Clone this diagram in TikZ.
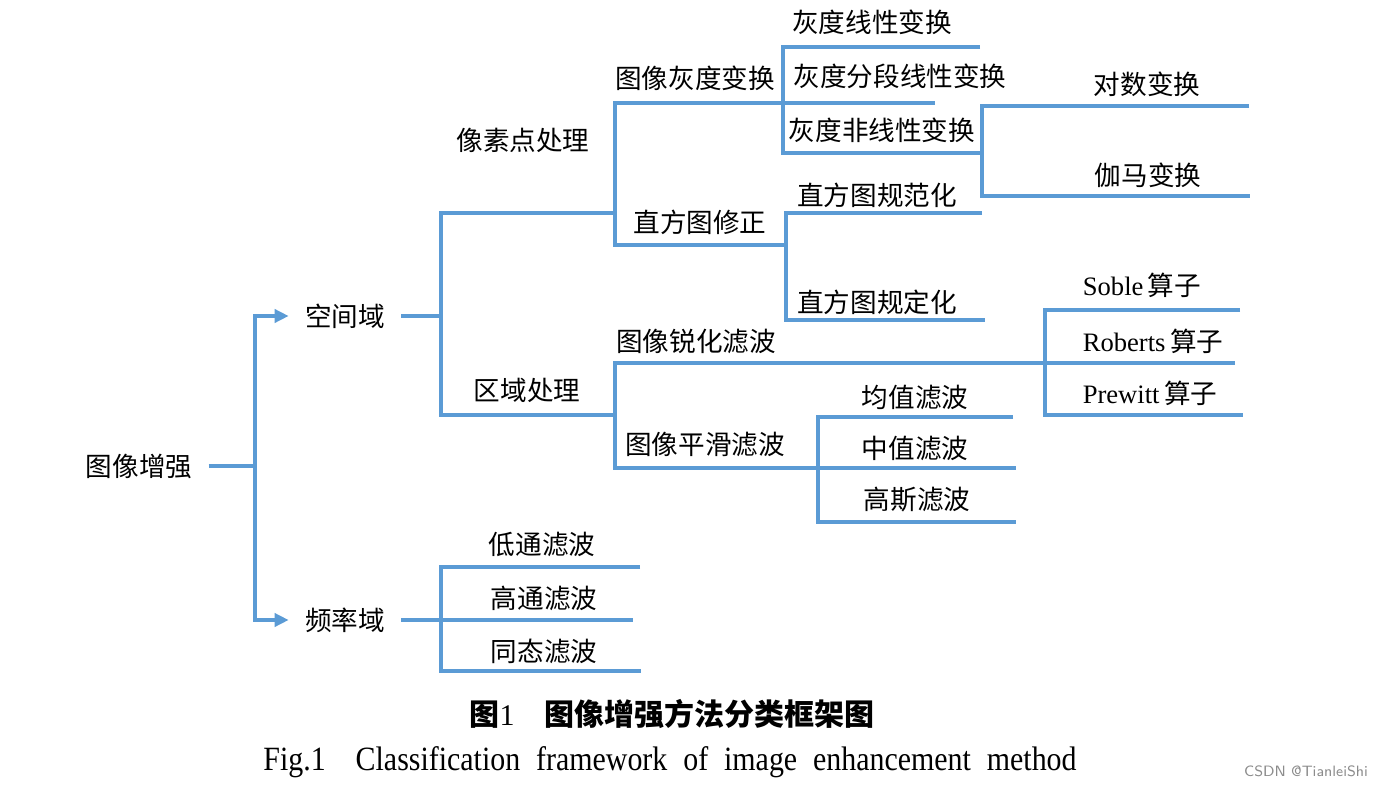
\documentclass[tikz,border=0pt]{standalone}
\usepackage{fontspec}
\setmainfont{Liberation Serif}
\newfontfamily\cjk{Noto Sans CJK SC}
\usetikzlibrary{arrows.meta}
\definecolor{lineblue}{RGB}{91,155,213}

\begin{document}
\begin{tikzpicture}[x=0.5pt, y=-0.5pt,
  lbl/.style={font=\cjk\fontsize{13.3}{16}\selectfont, inner sep=0pt},
  br/.style={draw=lineblue, line width=2.1pt},
  every node/.style={text=black}]
  \useasboundingbox (0,0) rectangle (1385,786);

  % top levels
  \node[lbl, inner xsep=8pt] (root) at (139,466) {图像增强};
  \node[lbl, inner xsep=8pt] (sp) at (345,316) {空间域};
  \node[lbl, inner xsep=8pt] (fr) at (345,620) {频率域};
  \coordinate (r0) at (255,466);
  \draw[br] (root.east) -- (r0);
  \draw[br, -{Triangle[length=7pt,width=6.5pt]}] (r0) |- (sp.west);
  \draw[br, -{Triangle[length=7pt,width=6.5pt]}] (r0) |- (fr.west);

  % spatial domain
  \coordinate (s0) at (441,316);
  \coordinate (pix) at (615,213);
  \coordinate (reg) at (615,415);
  \node[lbl] (pixl) at (523,140) {像素点处理};
  \node[lbl] (regl) at (527,390) {区域处理};
  \draw[br] (sp.east) -- (s0);
  \draw[br] (pix) -| (s0) |- (reg);

  % point processing
  \coordinate (g0) at (783,103);
  \coordinate (h0) at (786,245);
  \node[lbl] (gl) at (695,78) {图像灰度变换};
  \node[lbl] (hl) at (700,222) {直方图修正};
  \draw[br] (g0) -| (pix) |- (h0);

  \coordinate (c1) at (980,47);
  \coordinate (c2) at (935,103);
  \coordinate (c3) at (982,153);
  \node[lbl] (c1l) at (872,22) {灰度线性变换};
  \node[lbl] (c2l) at (900,76) {灰度分段线性变换};
  \node[lbl] (c3l) at (882,130) {灰度非线性变换};
  \draw[br] (c1) -| (g0) |- (c3);
  \draw[br] (g0) -- (c2);

  \coordinate (d1) at (1249,106);
  \coordinate (d2) at (1250,196);
  \node[lbl] (d1l) at (1147,84) {对数变换};
  \node[lbl] (d2l) at (1148,175) {伽马变换};
  \draw[br] (d1) -| (c3) |- (d2);

  \coordinate (e1) at (982,213);
  \coordinate (e2) at (985,320);
  \node[lbl] (e1l) at (877,195) {直方图规范化};
  \node[lbl] (e2l) at (877,302) {直方图规定化};
  \draw[br] (e1) -| (h0) |- (e2);

  % region processing
  \coordinate (sh) at (1045,363);
  \coordinate (sm) at (818,468);
  \node[lbl] (shl) at (696,341) {图像锐化滤波};
  \node[lbl] (sml) at (705,444) {图像平滑滤波};
  \draw[br] (sh) -| (reg) |- (sm);

  \coordinate (k1) at (1240,310);
  \coordinate (k2) at (1235,363);
  \coordinate (k3) at (1243,415);
  \node[lbl] (k1l) at (1142,285) {{\rmfamily Soble}\,算子};
  \node[lbl] (k2l) at (1153,341) {{\rmfamily Roberts}\,算子};
  \node[lbl] (k3l) at (1150,393) {{\rmfamily Prewitt}\,算子};
  \draw[br] (k1) -| (sh) |- (k3);
  \draw[br] (sh) -- (k2);

  \coordinate (m1) at (1013,417);
  \coordinate (m2) at (1016,468);
  \coordinate (m3) at (1016,522);
  \node[lbl] (m1l) at (915,397) {均值滤波};
  \node[lbl] (m2l) at (915,448) {中值滤波};
  \node[lbl] (m3l) at (917,500) {高斯滤波};
  \draw[br] (m1) -| (sm) |- (m3);
  \draw[br] (sm) -- (m2);

  % frequency domain
  \coordinate (f0) at (441,620);
  \coordinate (f1) at (640,567);
  \coordinate (f2) at (633,620);
  \coordinate (f3) at (641,671);
  \node[lbl] (f1l) at (542,544) {低通滤波};
  \node[lbl] (f2l) at (544,598) {高通滤波};
  \node[lbl] (f3l) at (544,651) {同态滤波};
  \draw[br] (fr.east) -- (f0);
  \draw[br] (f1) -| (f0) |- (f3);
  \draw[br] (f0) -- (f2);

  % caption
  \node[inner sep=0pt, font=\fontsize{15}{18}\selectfont] (cap) at (672,714)
    {{\cjk\bfseries 图}1\quad{\cjk\bfseries 图像增强方法分类框架图}};
  \node[inner sep=0pt, font=\fontsize{17}{20}\selectfont] (capen) at (670,762)
    {\scalebox{0.88}[1]{\makebox[462pt][s]{Fig.1\quad Classification framework of image enhancement method}}};
  \node[inner sep=0pt, font=\sffamily\fontsize{7.5}{9}\selectfont, text=black!45] (wm) at (1306,771) {CSDN @TianleiShi};
\end{tikzpicture}
\end{document}
